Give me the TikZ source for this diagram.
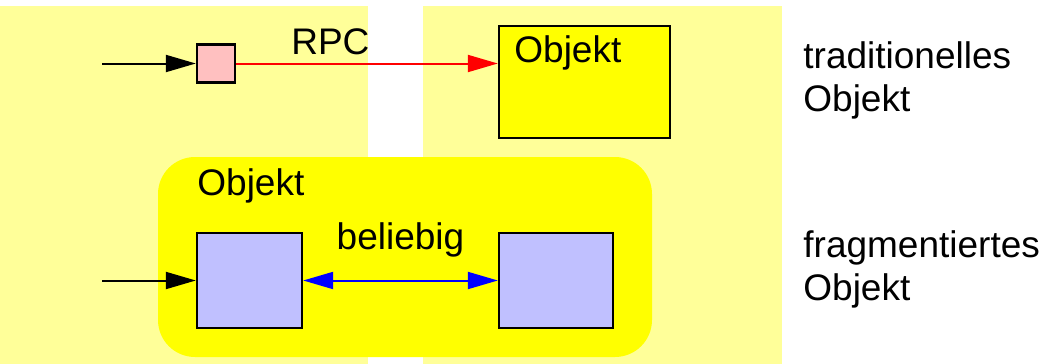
\documentclass[tikz,border=0pt]{standalone}
\usepackage{fontspec}
\setmainfont{Liberation Sans}
\usetikzlibrary{arrows.meta,positioning}

\definecolor{paleyellow}{RGB}{255,255,153}
\definecolor{objyellow}{RGB}{255,255,0}
\definecolor{stubpink}{RGB}{255,192,192}
\definecolor{fraglilac}{RGB}{192,192,255}

\begin{document}
\begin{tikzpicture}[
    x=0.5pt, y=-0.5pt,
    font=\fontsize{18.5}{21.5}\selectfont,
    box/.style={draw, line width=1.2pt, inner sep=0pt},
    lbl/.style={anchor=base west, inner sep=0pt, align=left},
    arr/.style={-{Triangle[length=15pt, width=8.5pt]}, line width=1pt},
    rpc/.style={arr, red},
    link/.style={{Triangle[length=15pt, width=8.5pt]}-{Triangle[length=15pt, width=8.5pt]}, line width=1pt, blue}
  ]
    \useasboundingbox (0,0) rectangle (1046,364);
    % two address spaces
    \fill[paleyellow] (0,6) rectangle (368,364);
    \fill[paleyellow] (423,6) rectangle (782,364);

    % traditional object with stub
    \node[box, fill=stubpink, minimum size=19pt] (stub) at (216,63.5) {};
    \node[box, fill=objyellow, minimum width=85.5pt, minimum height=56pt] (tobj) at (584.5,82) {};
    \node[lbl] (tname) at (514,62) {Objekt};
    \coordinate (tin) at (102,63.5);
    \draw[arr] (tin) -- (stub);
    \draw[rpc] (stub.east) -- node[pos=0.36, above=4pt, inner sep=0pt, text=black] (rpclbl) {RPC} (stub.east -| tobj.west);

    % fragmented object
    \node[fill=objyellow, rounded corners=18.5pt, minimum width=247pt, minimum height=100pt] (fobj) at (405,257) {};
    \node[lbl] (fname) at (197,195) {Objekt};
    \node[box, fill=fraglilac, minimum width=52.5pt, minimum height=47.5pt] (fragA) at (249.5,280.5) {};
    \node[box, fill=fraglilac, minimum width=57pt, minimum height=47.5pt] (fragB) at (556,280.5) {};
    \coordinate (fin) at (102,280.5);
    \draw[arr] (fin) -- (fragA);
    \draw[link] (fragA) -- node[above=11pt, inner sep=0pt, text=black] (anylbl) {beliebig} (fragB);

    % captions
    \node[lbl] (tcap) at (803,112) {traditionelles\\Objekt};
    \node[lbl] (fcap) at (803,300) {fragmentiertes\\Objekt};
  \end{tikzpicture}
\end{document}
